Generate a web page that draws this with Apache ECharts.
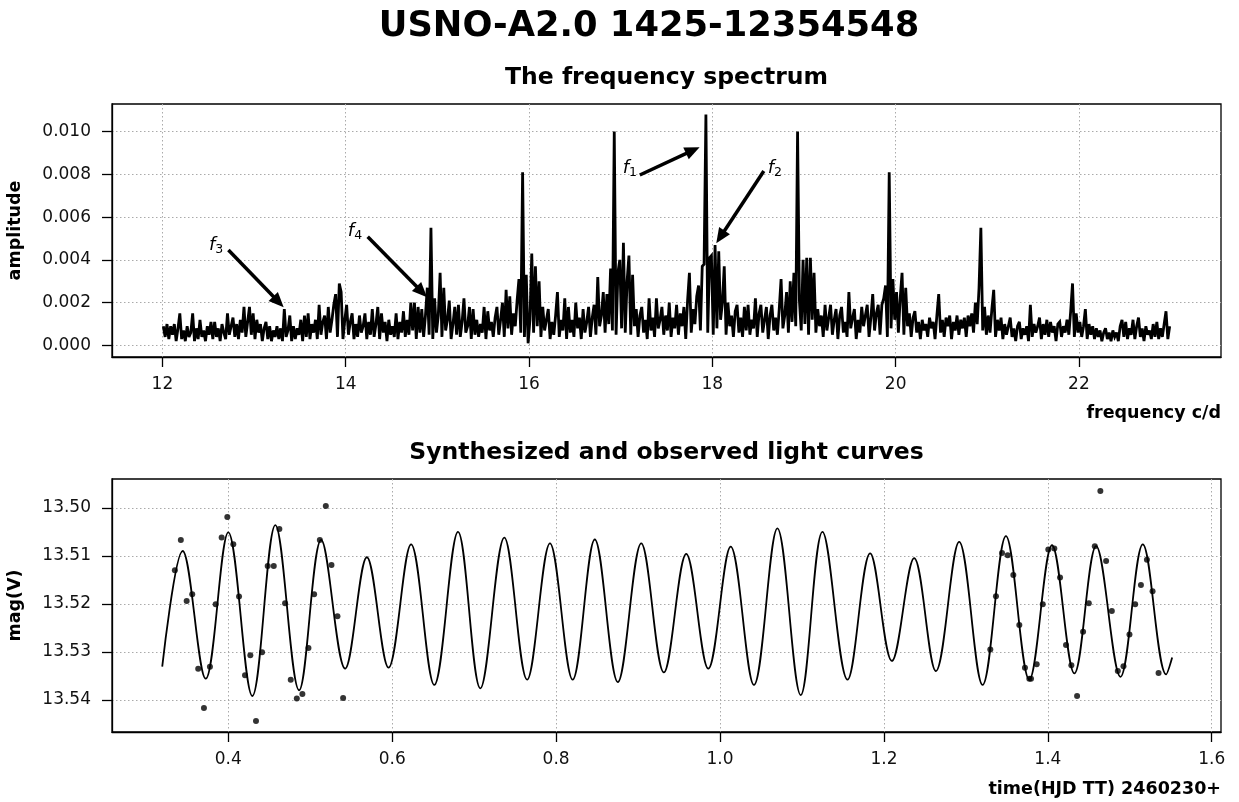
<!DOCTYPE html>
<html>
<head>
<meta charset="utf-8">
<script src="https://cdn.jsdelivr.net/npm/echarts@6/dist/echarts.min.js"></script>
<style>
html,body{margin:0;padding:0;background:#fff;}
#c{width:1239px;height:802px;}
</style>
</head>
<body>
<div id="c"></div>
<script>
// ---------- DATA ----------
// frequency spectrum sampling grid (c/d)
const FREQ_START = 12.01;
const FREQ_STEP = 0.02;
// amplitude, in units of 1e-4
const amplitudeE4 = [
 9,4,10,3,9,5,10,2,8,15, 3,7,2,9,4,6,15,2,8,3, 12,4,7,2,9,5,11,3,11,4, 8,2,10,6,3,15,5,9,13,4, 10,3,12,6,18,4,11,18,5,15,
 3,12,6,10,2,8,11,3,9,2, 7,4,9,3,8,2,17,4,7,14, 2,9,3,8,5,12,2,14,4,15, 3,10,6,12,3,19,5,11,14,3, 18,6,12,19,24,4,29,25,3,12,
 19,5,11,15,3,10,4,14,6,9, 15,3,11,5,17,4,10,18,3,15, 6,11,2,12,5,9,4,15,3,11, 6,16,4,12,5,20,7,20,3,18, 6,17,4,14,27,5,55,3,22,6,
 14,34,4,27,7,12,21,3,10,18, 5,19,4,11,22,6,9,18,3,17, 5,12,4,10,6,18,3,16,7,11, 4,13,18,5,12,20,4,26,8,23, 5,15,9,21,31,6,81,4,33,1,
 12,43,6,37,9,30,4,18,7,12, 17,3,11,5,14,25,4,12,7,22, 3,18,6,12,4,20,8,13,3,17, 6,11,18,4,13,19,5,32,9,14, 25,6,24,10,36,7,100,5,34,40,
 8,48,6,30,42,5,33,9,17,4, 14,18,6,12,3,22,7,13,4,22, 8,12,18,5,14,7,20,4,13,8, 19,5,15,9,18,3,21,34,6,17, 10,23,28,7,37,38,108,6,41,42,
 5,47,8,44,12,20,37,5,20,9, 14,4,16,19,6,13,4,18,7,19, 5,12,8,22,4,15,19,6,12,18, 3,14,19,7,13,5,17,31,8,14, 25,6,30,11,34,9,100,21,7,40,
 10,41,5,41,12,34,6,17,9,14, 4,19,7,13,19,5,12,17,3,14, 18,6,11,4,25,8,13,17,3,12, 6,18,9,14,19,4,13,24,7,15, 19,5,19,22,28,4,81,8,31,12,
 25,6,22,34,5,27,9,15,4,13, 16,6,11,3,12,7,10,4,13,8, 11,3,14,24,6,12,4,13,9,14, 3,11,7,14,5,12,8,13,4,14, 9,15,6,20,10,27,55,7,18,5,
 14,6,17,26,4,12,7,13,3,10, 5,9,13,4,8,2,9,11,3,8, 5,9,2,19,4,10,6,9,13,3, 10,5,12,4,11,6,9,2,10,11, 4,9,6,12,5,16,29,4,15,6,
 11,4,9,17,3,10,5,9,3,8, 4,7,2,6,8,3,6,2,7,4, 6,2,9,12,4,11,3,8,5,12, 3,9,13,4,8,2,9,5,7,3, 10,4,11,3,8,4,10,16,3,9
];
const freqTicks = [12, 14, 16, 18, 20, 22];
const ampTicks = [0, 0.002, 0.004, 0.006, 0.008, 0.010];

// annotation arrows (data coords) for f1..f4
const peakNames = ['1', '2', '3', '4'];
const arrowFrom = [[17.209, 0.00797], [18.562, 0.008156], [12.72, 0.00446], [14.24, 0.00508]];
const arrowTo   = [[17.787, 0.009125], [18.088, 0.005073], [13.266, 0.00204], [14.830, 0.002508]];
const labelAt   = [[17.10, 0.0083], [18.682, 0.0083], [12.586, 0.00469], [14.101, 0.00535]];

// synthesized light curve: turning points
const curveTime = [0.3194,0.3443,0.3724,0.4000,0.4293,0.4574,0.4864,0.5133,0.5426,0.5691,0.5955,0.6230,0.6513,0.6803,0.7075,0.7368,0.7646,0.7925,0.8202,0.8472,0.8753,0.9039,0.9315,0.9588,0.9857,1.0130,1.0414,1.0700,1.0985,1.1250,1.1556,1.1832,1.2097,1.2369,1.2634,1.2918,1.3204,1.3489,1.3774,1.4051,1.4324,1.4589,1.4886,1.5159,1.5444,1.5517];
const curveMag  = [13.5331,13.5090,13.5356,13.5051,13.5392,13.5036,13.5380,13.5067,13.5335,13.5103,13.5333,13.5076,13.5369,13.5050,13.5376,13.5062,13.5358,13.5074,13.5358,13.5066,13.5363,13.5074,13.5343,13.5096,13.5335,13.5081,13.5369,13.5043,13.5390,13.5050,13.5358,13.5095,13.5319,13.5105,13.5340,13.5071,13.5369,13.5059,13.5358,13.5078,13.5345,13.5080,13.5352,13.5076,13.5347,13.5312];

// observed points
const obsTime = [0.3348,0.3421,0.3492,0.3560,0.3633,0.3703,0.3776,0.3846,0.3919,0.3988,0.4061,0.4131,0.4204,0.4269,0.4338,0.4412,0.4481,0.4555,0.4623,0.4693,0.4762,0.4836,0.4904,0.4978,0.5047,0.5117,0.5190,0.5259,0.5332,0.5401,
 1.3298,1.3367,1.3441,1.3510,1.3579,1.3652,1.3721,1.3774,1.3795,1.3864,1.3938,1.4006,1.4079,1.4149,1.4222,1.4287,1.4357,1.4430,1.4500,1.4573,1.4641,1.4711,1.4781,1.4854,1.4923,1.4996,1.5066,1.5136,1.5209,1.5278,1.5351];
const obsMag = [13.5130,13.5067,13.5194,13.5180,13.5335,13.5417,13.5331,13.5201,13.5062,13.5019,13.5076,13.5185,13.5349,13.5307,13.5444,13.5301,13.5121,13.5121,13.5044,13.5199,13.5358,13.5397,13.5388,13.5292,13.5180,13.5067,13.4996,13.5119,13.5226,13.5396,
 13.5295,13.5184,13.5094,13.5099,13.5140,13.5244,13.5333,13.5356,13.5356,13.5326,13.5201,13.5087,13.5085,13.5145,13.5286,13.5328,13.5392,13.5258,13.5199,13.5080,13.4965,13.5111,13.5215,13.5340,13.5330,13.5264,13.5201,13.5161,13.5108,13.5174,13.5344];

const timeTicks = [0.4, 0.6, 0.8, 1.0, 1.2, 1.4, 1.6];
const magTicks = [13.50, 13.51, 13.52, 13.53, 13.54];

// ---------- CHART ----------
const FONT = '"DejaVu Sans", "Noto Sans", sans-serif';
const spectrum = amplitudeE4.map((a, i) => [+(FREQ_START + FREQ_STEP * i).toFixed(2), a * 1e-4]);
const curve = curveTime.map((t, i) => [t, curveMag[i]]);
const obs = obsTime.map((t, i) => [t, obsMag[i]]);

function axisBase(ticks, fmt, margin, extra) {
  return Object.assign({
    type: 'value',
    scale: true,
    axisLine: { show: true, onZero: false, lineStyle: { color: '#000', width: 1.3 } },
    axisTick: { show: true, inside: false, length: 10, customValues: ticks, lineStyle: { color: '#000', width: 1.3 } },
    axisLabel: { show: true, customValues: ticks, formatter: fmt, margin: margin, fontFamily: FONT, fontSize: 17, color: '#111' },
    splitLine: { show: true, lineStyle: { color: '#aaaaaa', width: 1, type: [1.5, 2.5] } }
  }, extra);
}

const chart = echarts.init(document.getElementById('c'));
const option = {
  animation: false,
  backgroundColor: '#fff',
  grid: [
    { left: 112, top: 104, width: 1109, height: 253, show: true, borderColor: '#000', borderWidth: 1.3, backgroundColor: 'transparent', containLabel: false, outerBoundsMode: 'none' },
    { left: 112, top: 479, width: 1109, height: 253, show: true, borderColor: '#000', borderWidth: 1.3, backgroundColor: 'transparent', containLabel: false, outerBoundsMode: 'none' }
  ],
  xAxis: [
    axisBase(freqTicks, v => String(v), 19, { gridIndex: 0, min: 11.45, max: 23.55 }),
    axisBase(timeTicks, v => v.toFixed(1), 19, { gridIndex: 1, min: 0.2581, max: 1.6113 })
  ],
  yAxis: [
    axisBase(ampTicks, v => v.toFixed(3), 21, {
      gridIndex: 0, min: -0.00054, max: 0.01129,
      name: 'amplitude', nameLocation: 'middle', nameGap: 88,
      nameTextStyle: { fontFamily: FONT, fontSize: 17.5, fontWeight: 'bold', color: '#000' }
    }),
    axisBase(magTicks, v => v.toFixed(2), 21, {
      gridIndex: 1, min: 13.4940, max: 13.5467, inverse: true,
      name: 'mag(V)', nameLocation: 'middle', nameGap: 88,
      nameTextStyle: { fontFamily: FONT, fontSize: 17.5, fontWeight: 'bold', color: '#000' }
    })
  ],
  series: [
    {
      type: 'line', xAxisIndex: 0, yAxisIndex: 0, data: spectrum,
      showSymbol: false, symbol: 'none', sampling: null,
      lineStyle: { color: '#000', width: 2.8, join: 'miter', miterLimit: 3 },
      emphasis: { disabled: true }, silent: true,
      markLine: {
        silent: true, animation: false,
        symbol: ['none', 'triangle'],
        lineStyle: { color: '#000', width: 3.5, type: 'solid' },
        label: { show: false },
        emphasis: { disabled: true },
        data: arrowFrom.map((p, i) => [
          { coord: p, symbol: 'none' },
          { coord: arrowTo[i], symbol: 'triangle', symbolSize: [13, 15] }
        ])
      },
      markPoint: {
        silent: true, animation: false,
        symbol: 'circle', symbolSize: 0,
        itemStyle: { color: 'transparent' },
        data: labelAt.map((p, i) => ({
          coord: p,
          label: {
            show: true, position: 'inside',
            formatter: '{i|f}{s|' + peakNames[i] + '}',
            rich: {
              i: { fontFamily: FONT, fontSize: 18, fontStyle: 'italic', color: '#000' },
              s: { fontFamily: FONT, fontSize: 12.5, color: '#000', padding: [10, 0, 0, 0] }
            }
          }
        }))
      }
    },
    {
      type: 'line', xAxisIndex: 1, yAxisIndex: 1, data: curve,
      showSymbol: false, symbol: 'none', smooth: 0.36,
      lineStyle: { color: '#000', width: 1.8 },
      emphasis: { disabled: true }, silent: true
    },
    {
      type: 'scatter', xAxisIndex: 1, yAxisIndex: 1, data: obs,
      symbol: 'circle', symbolSize: 6,
      itemStyle: { color: '#000' },
      emphasis: { disabled: true }, silent: true
    }
  ],
  graphic: [
    { type: 'text', x: 649, y: 27, style: { text: 'USNO-A2.0 1425-12354548', font: 'bold 35.3px ' + FONT, fill: '#000', textAlign: 'center', textVerticalAlign: 'middle', align: 'center', verticalAlign: 'middle' } },
    { type: 'text', x: 666.5, y: 78, style: { text: 'The frequency spectrum', font: 'bold 23.5px ' + FONT, fill: '#000', textAlign: 'center', textVerticalAlign: 'middle', align: 'center', verticalAlign: 'middle' } },
    { type: 'text', x: 666.5, y: 453, style: { text: 'Synthesized and observed light curves', font: 'bold 23.5px ' + FONT, fill: '#000', textAlign: 'center', textVerticalAlign: 'middle', align: 'center', verticalAlign: 'middle' } },
    { type: 'text', x: 1221, y: 413, style: { text: 'frequency c/d', font: 'bold 17.5px ' + FONT, fill: '#000', textAlign: 'right', textVerticalAlign: 'middle', align: 'right', verticalAlign: 'middle' } },
    { type: 'text', x: 1221, y: 789, style: { text: 'time(HJD TT) 2460230+', font: 'bold 17.5px ' + FONT, fill: '#000', textAlign: 'right', textVerticalAlign: 'middle', align: 'right', verticalAlign: 'middle' } }
  ]
};
chart.setOption(option);
</script>
</body>
</html>
